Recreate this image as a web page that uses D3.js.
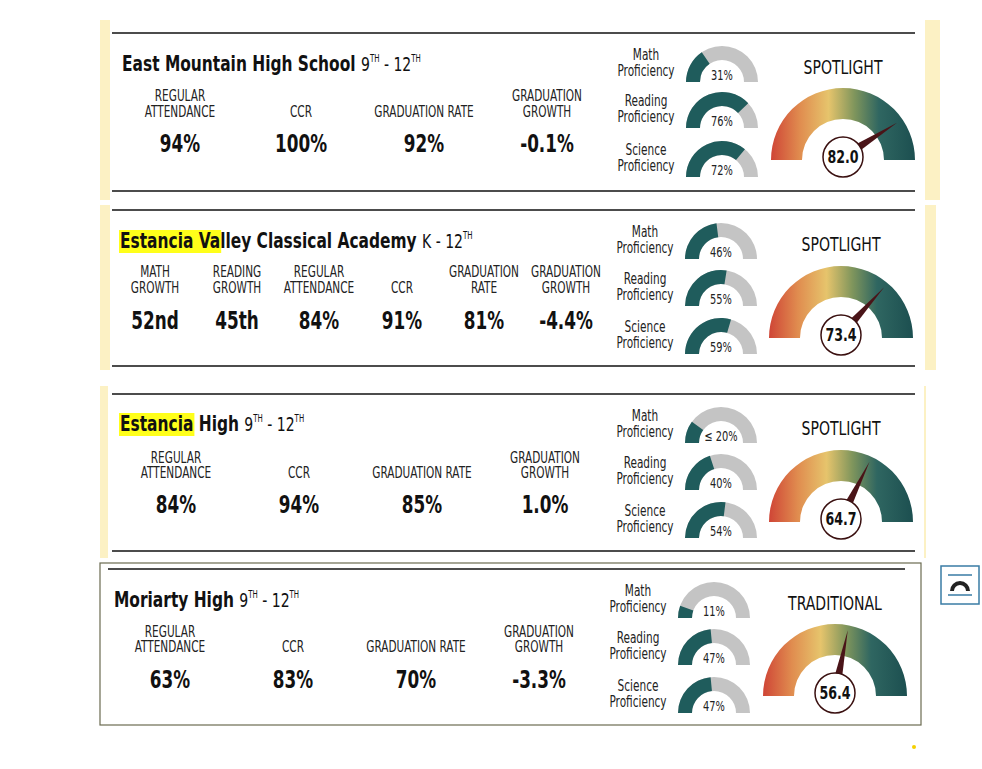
<!DOCTYPE html><html><head><meta charset="utf-8">
<script src="https://cdn.jsdelivr.net/npm/d3@7"></script>
<style>body{margin:0;background:#fff}text{font-family:"Liberation Sans Narrow","DejaVu Sans Condensed","DejaVu Sans",sans-serif}</style></head><body>
<svg id="c" width="982" height="769"></svg>
<script>
const schools=["East Mountain High School","Estancia Valley Classical Academy","Estancia High","Moriarty High"];
const highlight=["","Estancia Va","Estancia",""];
const grades=[["9","TH"," - 12","TH"],["K - 12","TH"],["9","TH"," - 12","TH"],["9","TH"," - 12","TH"]];
const metricLabels=[
 [["REGULAR","ATTENDANCE"],["CCR"],["GRADUATION RATE"],["GRADUATION","GROWTH"]],
 [["MATH","GROWTH"],["READING","GROWTH"],["REGULAR","ATTENDANCE"],["CCR"],["GRADUATION","RATE"],["GRADUATION","GROWTH"]],
 [["REGULAR","ATTENDANCE"],["CCR"],["GRADUATION RATE"],["GRADUATION","GROWTH"]],
 [["REGULAR","ATTENDANCE"],["CCR"],["GRADUATION RATE"],["GRADUATION","GROWTH"]]];
const metricValues=[["94%","100%","92%","-0.1%"],["52nd","45th","84%","91%","81%","-4.4%"],["84%","94%","85%","1.0%"],["63%","83%","70%","-3.3%"]];
const subjects=["Math","Reading","Science"];
const proficiency=[[31,76,72],[46,55,59],[20,40,54],[11,47,47]];
const profLabels=[["31%","76%","72%"],["46%","55%","59%"],["≤ 20%","40%","54%"],["11%","47%","47%"]];
const designation=["SPOTLIGHT","SPOTLIGHT","SPOTLIGHT","TRADITIONAL"];
const scores=[82.0,73.4,64.7,56.4];

const L=[
 {top:33,bot:191,x0:112,x1:915,title:[122,64],mx:[180,301,424,547],ly:[96,112],vy:144,gx:722,gb:[82,128,177],bx:843,bb:160,dy:67,lx:646},
 {top:210,bot:366,x0:112,x1:915,title:[120,241],mx:[155,237,319,402,484,566],ly:[272,288],vy:321,gx:721,gb:[259,306,354],bx:841,bb:338,dy:244,lx:645},
 {top:394,bot:551,x0:112,x1:915,title:[120,424],mx:[176,299,422,545],ly:[458,473],vy:505,gx:721,gb:[443,490,538],bx:841,bb:522,dy:428,lx:645},
 {top:569,bot:null,x0:108,x1:905,title:[114,600],mx:[170,293,416,539],ly:[632,647],vy:680,gx:714,gb:[618,665,713],bx:835,bb:696,dy:603,lx:638}];
const SX=0.78;
const svg=d3.select("#c");
const defs=svg.append("defs");
const gr=defs.append("linearGradient").attr("id","g");
[["0","#cf4536"],["0.2","#e08c4f"],["0.4","#e6c46c"],["0.58","#7f955c"],["0.75","#2f6661"],["1","#1c4f50"]].forEach(s=>gr.append("stop").attr("offset",s[0]).attr("stop-color",s[1]));

const Y="#fcf1c4";
svg.append("rect").attr("x",100).attr("y",20).attr("width",10).attr("height",180).attr("fill",Y);
svg.append("rect").attr("x",925).attr("y",20).attr("width",15).attr("height",180).attr("fill",Y);
svg.append("rect").attr("x",100).attr("y",205).attr("width",10).attr("height",165).attr("fill",Y);
svg.append("rect").attr("x",925).attr("y",205).attr("width",11).attr("height",165).attr("fill",Y);
svg.append("rect").attr("x",100).attr("y",386).attr("width",8).attr("height",172).attr("fill",Y);
svg.append("rect").attr("x",924).attr("y",386).attr("width",2).attr("height",172).attr("fill",Y);
svg.append("rect").attr("x",100).attr("y",563).attr("width",821).attr("height",162).attr("fill","none").attr("stroke","#6b6b50").attr("stroke-width",1.2);
svg.append("circle").attr("cx",914).attr("cy",747).attr("r",2).attr("fill","#f5d000");
const ic=svg.append("g");
ic.append("rect").attr("x",941).attr("y",566).attr("width",38).attr("height",38).attr("fill","#fff").attr("stroke","#3a7ca5").attr("stroke-width",1.5);
ic.append("path").attr("d","M948,575H972M948,595H972").attr("stroke","#3a7ca5").attr("stroke-width",1.5);
ic.append("path").attr("d",d3.arc().innerRadius(6).outerRadius(10).startAngle(-Math.PI/2).endAngle(Math.PI/2)()).attr("transform","translate(960,591)").attr("fill","#222");

const ang=d3.scaleLinear().domain([0,100]).range([-Math.PI/2,Math.PI/2]);

L.forEach((l,i)=>{
 const g=svg.append("g");
 g.append("line").attr("x1",l.x0).attr("x2",l.x1).attr("y1",l.top).attr("y2",l.top).attr("stroke","#111").attr("stroke-width",1.3);
 if(l.bot) g.append("line").attr("x1",l.x0).attr("x2",l.x1).attr("y1",l.bot).attr("y2",l.bot).attr("stroke","#111").attr("stroke-width",1.3);
 const ty=l.title[1]+7;
 const t=g.append("text").attr("x",l.title[0]).attr("y",ty).attr("font-size",22).attr("fill","#111");
 const hl=highlight[i];
 if(hl){
  const tmp=g.append("text").attr("font-size",22).attr("font-weight","bold").text(hl);
  const w=tmp.node().getComputedTextLength()*SX;tmp.remove();
  g.insert("rect","text").attr("x",l.title[0]-1).attr("y",ty-18).attr("width",w+2).attr("height",23).attr("fill","#ffff1a");
 }
 t.append("tspan").attr("font-weight","bold").text(schools[i]+" ");
 grades[i].forEach((s,k)=>{
  const sup=s==="TH";
  t.append("tspan").attr("font-size",sup?10:20).attr("dy",sup?-9:(k>0?9:0)).text(s);
 });
 metricLabels[i].forEach((lab,k)=>{
  const x=l.mx[k];
  const lines=lab.length===1?[null,lab[0]]:lab;
  lines.forEach((s,j)=>{ if(s) g.append("text").attr("x",x).attr("y",l.ly[j]+5).attr("text-anchor","middle").attr("font-size",15).attr("fill","#222").text(s);});
  g.append("text").attr("x",x).attr("y",l.vy+8).attr("text-anchor","middle").attr("font-size",24).attr("font-weight","bold").attr("fill","#111").text(metricValues[i][k]);
 });
 subjects.forEach((s,k)=>{
  const by=l.gb[k];
  g.append("text").attr("x",l.lx).attr("y",by-22).attr("text-anchor","middle").attr("font-size",15).attr("fill","#222").text(s);
  g.append("text").attr("x",l.lx).attr("y",by-6).attr("text-anchor","middle").attr("font-size",15).attr("fill","#222").text("Proficiency");
  const arc=d3.arc().innerRadius(22).outerRadius(36);
  const gg=g.append("g").attr("transform",`translate(${l.gx},${by})`);
  gg.append("path").attr("d",arc({startAngle:-Math.PI/2,endAngle:Math.PI/2})).attr("fill","#c4c4c4");
  gg.append("path").attr("d",arc({startAngle:-Math.PI/2,endAngle:ang(proficiency[i][k])})).attr("fill","#1f5c5c");
  gg.append("text").attr("y",-2).attr("text-anchor","middle").attr("font-size",14).attr("fill","#222").text(profLabels[i][k]);
 });
 g.append("text").attr("x",l.bx).attr("y",l.dy+7).attr("text-anchor","middle").attr("font-size",20).attr("fill","#111").text(designation[i]);
 const bg=g.append("g").attr("transform",`translate(${l.bx},${l.bb})`);
 bg.append("path").attr("d",d3.arc().innerRadius(41).outerRadius(72)({startAngle:-Math.PI/2,endAngle:Math.PI/2})).attr("fill","url(#g)");
 const a=ang(scores[i]), cy=-3;
 const tip=[64*Math.sin(a),cy-64*Math.cos(a)], px=Math.cos(a)*4, py=Math.sin(a)*4;
 const bx=14*Math.sin(a), byy=cy-14*Math.cos(a);
 bg.append("path").attr("d",`M${bx+px},${byy+py}L${tip[0]},${tip[1]}L${bx-px},${byy-py}Z`).attr("fill","#4a1418");
 bg.append("circle").attr("cy",cy).attr("r",20).attr("fill","#fff").attr("stroke","#3a1010").attr("stroke-width",1.5);
 bg.append("text").attr("y",cy+6).attr("text-anchor","middle").attr("font-size",18).attr("font-weight","bold").attr("fill","#111").text(scores[i].toFixed(1));
});
svg.selectAll("text").each(function(){
 const s=d3.select(this), x=+s.attr("x")||0, y=+s.attr("y")||0;
 s.attr("x",0).attr("y",0).attr("transform",`translate(${x},${y}) scale(${SX},1)`);
});
</script></body></html>
